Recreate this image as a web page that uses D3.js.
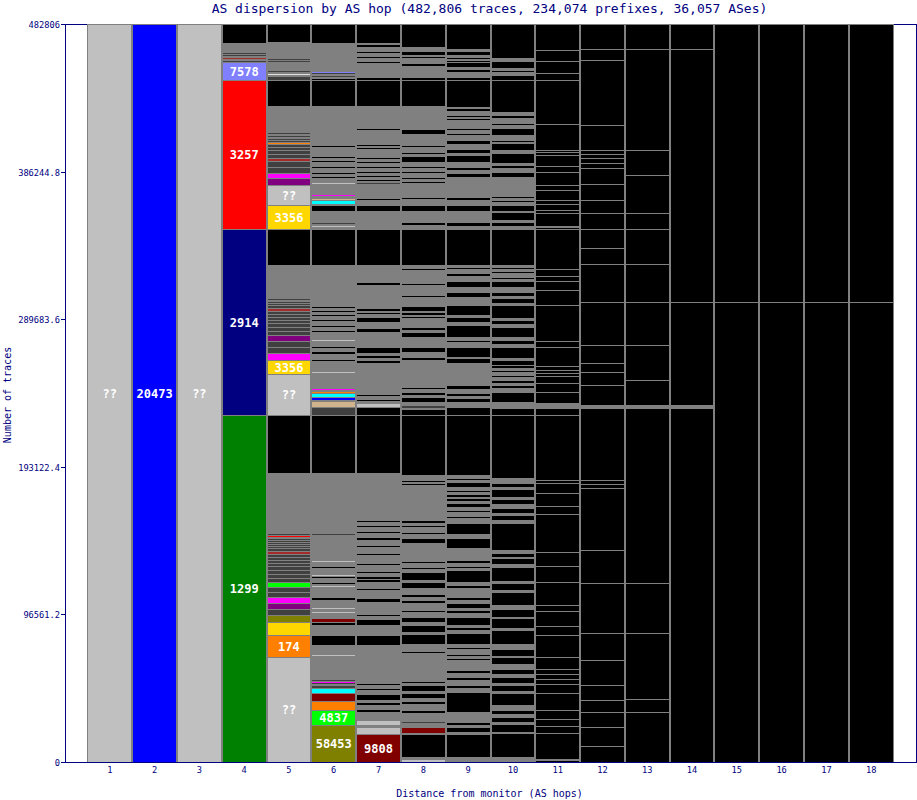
<!DOCTYPE html>
<html><head><meta charset="utf-8">
<script src="https://cdn.jsdelivr.net/npm/d3@7"></script>
<style>body{margin:0;background:#fff}svg{display:block}</style>
</head><body>
<script>
// ---------------- DATA ----------------
const TOTAL_TRACES = 482806;
const titleText = "AS dispersion by AS hop (482,806 traces, 234,074 prefixes, 36,057 ASes)";
const xTitle = "Distance from monitor (AS hops)";
const yTitle = "Number of traces";
const hops = [1,2,3,4,5,6,7,8,9,10,11,12,13,14,15,16,17,18];
const yTicks = [0, 96561.2, 193122.4, 289683.6, 386244.8, 482806];
const yTickLabels = ["0","96561.2","193122.4","289683.6","386244.8","482806"];
const palette = {K:"#000000",G:"#808080",D:"#404040",L:"#c0c0c0",W:"#e0e0e0",B:"#0000ff",GR:"#008000",NV:"#000080",
  R:"#ff0000",LB:"#8080ff",Y:"#ffd700",O:"#ff8000",OL:"#808000",LM:"#00ff00",DR:"#800000",P:"#800080",M:"#ff00ff",
  C:"#00ffff",BR:"#a52a2a",T:"#d2b48c"};

// each column: stacked segments from the bottom: [traces, colour code, AS label]
const col1 = [[482806,"L","??"]];
const col2 = [[482806,"B","20473"]];
const col3 = [[482806,"L","??"]];
const col4 = [[227007,"GR","1299"],[121681,"NV","2914"],[97476,"R","3257"],[11776,"LB","7578"],
  [654,"D"],[1308,"G"],[654,"BR"],[1308,"G"],[654,"D"],[654,"G"],[654,"D"],[6542,"G"],[12430,"K"]];
const col5 = [
  [68691,"L","??"],[14392,"O","174"],[8505,"Y"],[4579,"OL"],[3925,"D"],[3925,"P"],[3925,"M"],[3271,"D"],[3271,"D"],[3271,"LM"],
  [2617,"D"],[2617,"D"],[2617,"D"],[2617,"D"],[1963,"D"],[1963,"D"],[1963,"D"],[1963,"D"],[1963,"BR"],[1963,"D"],
  [1308,"D"],[1308,"D"],[1308,"D"],[1308,"D"],[1308,"D"],[654,"G"],[654,"R"],[654,"G"],[654,"D"],[654,"G"],
  [39252,"G"],[37944,"K"],
  [26822,"L","??"],[9159,"Y","3356"],[4579,"M"],[3925,"D"],[3925,"D"],[3925,"P"],
  [2617,"D"],[2617,"D"],[2617,"D"],[1963,"D"],[1963,"D"],[1963,"D"],[1963,"D"],[1963,"BR"],[1963,"D"],[1308,"D"],[1308,"D"],[654,"G"],[654,"D"],[654,"G"],
  [21589,"G"],[23551,"K"],
  [15701,"Y","3356"],[13084,"L","??"],[4579,"P"],[3271,"M"],[3925,"D"],[3925,"D"],[1963,"BR"],
  [2617,"D"],[2617,"D"],[1963,"D"],[1963,"D"],[654,"O"],[654,"G"],[1308,"D"],[1308,"D"],[654,"G"],[654,"D"],[1308,"G"],[654,"D"],
  [17663,"G"],[17009,"K"],
  [2617,"D"],[654,"G"],[1308,"W"],[654,"G"],[1308,"D"],[5234,"G"],
  [654,"D"],[654,"G"],[654,"D"],[11121,"G"],[11776,"K"]];
const col6 = [
  [24205,"OL","58453"],[9813,"LM","4837"],[5888,"O"],[5234,"DR"],[3271,"C"],
  [1963,"D"],[654,"G"],[654,"D"],[654,"M"],[654,"G"],[654,"D"],
  [15701,"G"],[654,"L"],[6542,"G"],[6542,"K"],[6542,"G"],[1963,"K"],[2617,"DR"],
  [3271,"G"],[654,"L"],[1963,"G"],[654,"L"],[5234,"G"],[1963,"K"],[6542,"G"],[654,"L"],[1308,"G"],[1308,"K"],[2617,"G"],[1308,"K"],[1308,"L"],[3925,"G"],[1308,"K"],[2617,"G"],[654,"L"],[17009,"G"],[654,"D"],
  [39906,"G"],[37944,"K"],
  [5234,"D"],[3925,"T"],[654,"G"],[1963,"B"],[2617,"C"],[1308,"O"],[654,"G"],[654,"M"],[654,"G"],[9813,"G"],[654,"L"],[7196,"G"],[1308,"K"],[3271,"G"],[1963,"K"],[1963,"G"],[1308,"K"],[3271,"G"],[654,"L"],[5234,"G"],[1308,"K"],[1963,"G"],[1308,"K"],[2617,"G"],[1308,"K"],[1963,"G"],[1308,"K"],[1308,"G"],[1308,"K"],[1308,"G"],[1308,"K"],[5234,"G"],[21589,"G"],[23551,"K"],
  [1308,"G"],[654,"L"],[1308,"G"],[654,"D"],[7850,"G"],[3925,"K"],[654,"G"],[2617,"C"],[1308,"T"],[1308,"G"],[1308,"M"],[6542,"G"],[654,"L"],[3271,"G"],[654,"K"],[1963,"G"],[1308,"K"],[2617,"G"],[654,"K"],[3271,"G"],[1308,"K"],[1308,"G"],[654,"K"],[6542,"G"],[654,"K"],[26168,"G"],[17009,"K"],
  [1308,"K"],[654,"G"],[1308,"D"],[654,"G"],[654,"D"],[654,"LB"],[6542,"G"],
  [12430,"G"],[12430,"K"]];
const col7 = [
  [18318,"DR","9808"],[4579,"L"],[1308,"G"],[3271,"L"],[5234,"G"],[1963,"K"],[2617,"G"],[1963,"K"],[1308,"G"],[3925,"K"],[2617,"G"],[1308,"K"],[1963,"G"],[1308,"K"],[24860,"G"],[6542,"K"],[6542,"G"],[3925,"K"],[1963,"G"],[1308,"K"],[7850,"G"],[2617,"K"],[5234,"G"],[1308,"K"],[3925,"G"],[1963,"K"],[1963,"K"],[1963,"G"],[1308,"K"],[3925,"G"],[1308,"K"],[5234,"G"],[1308,"K"],[3925,"G"],[1308,"K"],[3271,"G"],[1963,"K"],[2617,"G"],[1308,"K"],[2617,"G"],[1308,"K"],[1963,"G"],[1308,"K"],[30747,"G"],[37944,"K"],
  [5234,"K"],[2617,"L"],[1308,"G"],[1308,"K"],[1963,"G"],[1308,"K"],[20280,"G"],[1963,"K"],[1308,"G"],[1963,"K"],[1308,"G"],[3925,"K"],[9813,"G"],[2617,"K"],[3925,"G"],[3271,"K"],[1963,"G"],[1308,"K"],[654,"G"],[1963,"K"],[15047,"G"],[1963,"K"],[11121,"G"],[23551,"K"],
  [11776,"G"],[3925,"K"],[3271,"G"],[1308,"K"],[9159,"G"],[654,"D"],[1308,"G"],[1308,"K"],[1308,"G"],[1308,"K"],[1308,"G"],[1308,"K"],[1963,"G"],[1308,"K"],[1963,"G"],[1308,"K"],[1308,"G"],[1308,"K"],[5234,"G"],[1308,"K"],[654,"G"],[1308,"K"],[9159,"G"],[654,"K"],[15047,"G"],[17009,"K"],
  [1963,"K"],[9159,"G"],[654,"K"],
  [2617,"G"],[1308,"K"],[1963,"G"],[1308,"K"],[2617,"G"],[1963,"K"],[654,"G"],[12430,"K"]];
const col8 = [
  [1963,"L"],[1308,"G"],[15047,"K"],[654,"G"],[3925,"DR"],[2617,"G"],[654,"D"],[5888,"G"],[1963,"K"],[3925,"G"],[1963,"K"],[1963,"G"],[3271,"K"],[1308,"G"],[3925,"K"],[1308,"G"],[1308,"K"],[18318,"G"],[1308,"K"],[4579,"G"],[6542,"K"],[1308,"G"],[4579,"K"],[1963,"G"],[3271,"K"],[3271,"G"],[1308,"K"],[4579,"G"],[1963,"K"],[1963,"G"],[1963,"K"],[3925,"G"],[3925,"K"],[1308,"G"],[5234,"K"],[1963,"G"],[1308,"K"],[2617,"G"],[1308,"K"],[11776,"G"],[3271,"K"],[2617,"G"],[1308,"K"],[3271,"G"],[1308,"K"],[1308,"G"],[1963,"K"],[22897,"G"],[1308,"K"],[654,"G"],[1308,"K"],[3271,"G"],[39252,"K"],
  [3925,"K"],[654,"G"],[1963,"D"],[1963,"G"],[3271,"K"],[1308,"G"],[1963,"K"],[1963,"G"],[1308,"K"],[17663,"G"],[1963,"K"],[3271,"G"],[3271,"K"],[6542,"G"],[3271,"K"],[1308,"G"],[1963,"K"],[5888,"G"],[1308,"K"],[654,"G"],[1963,"K"],[654,"G"],[3271,"K"],[5888,"G"],[1308,"K"],[6542,"G"],[1308,"K"],[8505,"G"],[1308,"K"],[1963,"G"],[23551,"K"],
  [2617,"G"],[1963,"K"],[7196,"G"],[3925,"K"],[3925,"G"],[1308,"K"],[9159,"G"],[1308,"K"],[1308,"G"],[1308,"K"],[2617,"G"],[1308,"K"],[1963,"G"],[1308,"K"],[2617,"G"],[3925,"K"],[1308,"G"],[1308,"K"],[3271,"G"],[1308,"K"],[7196,"G"],[3271,"K"],[15047,"G"],[17009,"K"],
  [1963,"K"],[7196,"G"],[1963,"K"],[654,"G"],
  [2617,"G"],[1308,"K"],[654,"G"],[2617,"K"],[2617,"G"],[15047,"K"]];
const col9 = [
  [3271,"G"],[15047,"K"],[1308,"G"],[3271,"K"],[1308,"G"],[1963,"K"],[6542,"G"],[13084,"K"],[2617,"G"],[1963,"K"],[3271,"G"],[1963,"K"],[2617,"G"],[1963,"K"],[6542,"G"],[1308,"K"],[1308,"G"],[1308,"K"],[3271,"G"],[1308,"K"],[1963,"G"],[7196,"K"],[1963,"G"],[1963,"K"],[1308,"G"],[5234,"K"],[2617,"G"],[1963,"K"],[1308,"G"],[3271,"K"],[1963,"G"],[1963,"K"],[5888,"G"],[1963,"K"],[1963,"G"],[7850,"K"],[1308,"G"],[1308,"K"],[1963,"G"],[1963,"K"],[7850,"G"],[6542,"K"],[2617,"G"],[7196,"K"],[3271,"G"],[1308,"K"],[2617,"G"],[1308,"K"],[1963,"G"],[2617,"K"],[1308,"G"],[1963,"K"],[654,"G"],[1963,"K"],[1308,"G"],[1308,"K"],[1963,"G"],[3271,"K"],[1308,"G"],[1308,"K"],[1963,"G"],[39252,"K"],
  [5234,"K"],[3271,"G"],[2617,"K"],[1308,"G"],[1963,"K"],[2617,"G"],[2617,"K"],[14392,"G"],[3271,"K"],[654,"G"],[6542,"K"],[3271,"G"],[1308,"K"],[1963,"G"],[7850,"K"],[1963,"G"],[3271,"K"],[1308,"G"],[6542,"K"],[5234,"G"],[3271,"K"],[3271,"G"],[3925,"K"],[3271,"G"],[1963,"K"],[2617,"G"],[1308,"K"],[1308,"G"],[23551,"K"],
  [1963,"G"],[2617,"K"],[7196,"G"],[3925,"K"],[3271,"G"],[1963,"K"],[13084,"G"],[2617,"K"],[1963,"G"],[1963,"K"],[3271,"G"],[4579,"K"],[1308,"G"],[2617,"K"],[3271,"G"],[2617,"K"],[3271,"G"],[1308,"K"],[1963,"G"],[1308,"K"],[5234,"G"],[1308,"K"],[654,"G"],[1308,"K"],[2617,"G"],[1963,"K"],[654,"G"],[17663,"K"],
  [1963,"K"],[3271,"G"],[1963,"K"],[1308,"G"],[3271,"K"],
  [654,"K"],[1308,"G"],[1308,"K"],[1308,"G"],[2617,"K"],[1308,"G"],[16355,"K"]];
const col10 = [
  [3271,"G"],[15701,"K"],[654,"G"],[5234,"K"],[1308,"G"],[3271,"K"],[1963,"G"],[2617,"K"],[3271,"G"],[7850,"K"],[1308,"G"],[3925,"K"],[1308,"G"],[3925,"K"],[1963,"G"],[3271,"K"],[3271,"G"],[4579,"K"],[654,"G"],[4579,"K"],[3271,"G"],[9159,"K"],[1308,"G"],[6542,"K"],[654,"G"],[5234,"K"],[2617,"G"],[8505,"K"],[1308,"G"],[4579,"K"],[1308,"G"],[9159,"K"],[1963,"G"],[3925,"K"],[654,"G"],[2617,"K"],[1963,"G"],[17663,"K"],[1963,"G"],[3271,"K"],[1308,"G"],[3271,"K"],[2617,"G"],[3271,"K"],[1308,"G"],[5234,"K"],[1308,"G"],[2617,"K"],[3271,"G"],[41214,"K"],
  [4579,"K"],[3925,"G"],[6542,"K"],[2617,"G"],[1963,"K"],[1308,"G"],[1963,"K"],[1963,"G"],[1308,"K"],[1963,"G"],[1308,"K"],[1308,"G"],[1963,"K"],[3271,"K"],[1308,"G"],[7196,"K"],[1963,"G"],[2617,"K"],[1963,"G"],[6542,"K"],[1963,"G"],[2617,"K"],[1308,"G"],[8505,"K"],[1308,"G"],[3271,"K"],[1308,"G"],[2617,"K"],[3271,"G"],[3925,"K"],[1308,"G"],[1308,"K"],[2617,"G"],[1308,"K"],[1308,"G"],[1308,"K"],[1308,"G"],[23551,"K"],
  [1963,"G"],[2617,"K"],[1308,"G"],[5234,"K"],[654,"G"],[3925,"K"],[1963,"G"],[1308,"K"],[1308,"G"],[1308,"K"],[12430,"G"],[3271,"K"],[2617,"G"],[1963,"K"],[1308,"G"],[6542,"K"],[1963,"G"],[4579,"K"],[654,"G"],[1308,"K"],[3271,"G"],[4579,"K"],[1963,"G"],[1308,"K"],[3271,"G"],[1963,"K"],[1963,"G"],[20934,"K"],
  [3271,"K"],[1963,"G"],[1308,"K"],[1308,"G"],[4579,"K"],[1963,"G"],[22243,"K"]];
const col11 = [
  [654,"K"],[1308,"G"],[17009,"K"],[4579,"K"],[4579,"K"],[5888,"K"],[11121,"K"],[5888,"K"],[3271,"K"],[3271,"K"],[3271,"K"],[7850,"K"],[14392,"K"],[5888,"K"],[9813,"K"],[3925,"K"],[15047,"K"],[10467,"K"],[9159,"K"],[24860,"K"],[5234,"K"],[8505,"K"],[6542,"K"],[1963,"K"],[42523,"K"],
  [4579,"K"],[3271,"G"],[7196,"K"],[5888,"K"],[4579,"K"],[1963,"K"],[1963,"K"],[2617,"K"],[12430,"K"],[3925,"K"],[23551,"K"],[9813,"K"],[5888,"K"],[3271,"K"],[4579,"K"],[26168,"K"],
  [654,"K"],[1308,"G"],[8505,"K"],[1963,"K"],[3925,"K"],[2617,"K"],[6542,"K"],[3271,"K"],[8505,"K"],[3925,"K"],[7196,"K"],[1963,"K"],[1308,"K"],[17009,"K"],[28785,"K"],
  [4579,"K"],[7850,"K"],[7196,"K"],[17009,"K"]];
const col12 = [[10467,"K"],[12430,"K"],[9813,"K"],[7850,"K"],[9813,"K"],[16355,"K"],[17663,"K"],[32710,"K"],[21589,"K"],[40560,"K"],[2617,"K"],[2617,"K"],[47102,"K"],[1963,"G"],
  [13084,"K"],[8505,"K"],[5888,"K"],[11776,"K"],[28131,"K"],[24860,"K"],[10467,"K"],[12430,"K"],[10467,"K"],[8505,"K"],[10467,"K"],[10467,"K"],[3271,"K"],[3271,"K"],[2617,"K"],[2617,"K"],[16355,"K"],[42523,"K"],[7196,"K"],[16355,"K"]];
const col13 = [[32710,"K"],[8505,"K"],[43177,"K"],[32710,"K"],[114485,"K"],[1963,"G"],[16355,"K"],[22897,"K"],[28131,"K"],[24860,"K"],[22897,"K"],[10467,"K"],[24860,"K"],[16355,"K"],[66074,"K"],[16355,"K"]];
const col14 = [[231587,"K"],[1963,"G"],[67382,"K"],[165513,"K"],[16355,"K"]];
const col15 = [[300932,"K"],[181868,"K"]];
const col16 = [[300932,"K"],[181868,"K"]];
const col17 = [[300932,"K"],[181868,"K"]];
const col18 = [[300932,"K"],[181868,"K"]];
const columns = [col1,col2,col3,col4,col5,col6,col7,col8,col9,col10,col11,col12,col13,col14,col15,col16,col17,col18];

// ---------------- DRAW ----------------
const W = 917, H = 800;
const navy = "#000080";
const mono = "'DejaVu Sans Mono', 'Liberation Mono', monospace";
const svg = d3.select("body").append("svg").attr("width", W).attr("height", H);
const x = d3.scaleLinear().domain([0, 19]).range([65, 916]);
const y = d3.scaleLinear().domain([0, TOTAL_TRACES]).range([762, 24]);

svg.append("rect").attr("x", 65.5).attr("y", 24.5).attr("width", 851).attr("height", 738)
  .attr("fill", "#fff").attr("stroke", navy).attr("shape-rendering", "crispEdges");

const g = svg.append("g").attr("shape-rendering", "crispEdges");
const lab = svg.append("g");
columns.forEach((segs, i) => {
  const hop = hops[i];
  const xl = Math.round(x(hop - 0.5)), xr = Math.round(x(hop + 0.5));
  const yTop = Math.round(y(TOTAL_TRACES));
  g.append("rect").attr("x", xl).attr("y", yTop).attr("width", xr - xl).attr("height", Math.round(y(0)) - yTop).attr("fill", palette.G);
  let cum = 0;
  segs.forEach(s => {
    const v0 = cum, v1 = Math.min(cum + s[0], TOTAL_TRACES);
    cum += s[0];
    const yb = Math.round(y(v0)), yt = Math.round(y(v1));
    const h = yb - yt;
    if (h <= 0) return;
    const top = h >= 2 ? yt + 1 : yt;
    g.append("rect").attr("x", xl + 1).attr("y", top).attr("width", xr - xl - 2).attr("height", yb - top).attr("fill", palette[s[1]]);
    if (s[2]) {
      lab.append("text").attr("x", x(hop)).attr("y", (yb + yt) / 2 + 4.5).attr("text-anchor", "middle")
        .attr("font-family", mono).attr("font-weight", "bold").attr("font-size", 12).attr("fill", "#fff").text(s[2]);
    }
  });
  if (cum < TOTAL_TRACES) {
    const yb = Math.round(y(cum)), yt = Math.round(y(TOTAL_TRACES));
    if (yb - yt >= 2) g.append("rect").attr("x", xl + 1).attr("y", yt + 1).attr("width", xr - xl - 2).attr("height", yb - yt - 1).attr("fill", palette.K);
  }
});

// axes lines
svg.append("line").attr("x1", 65).attr("x2", 917).attr("y1", 762.5).attr("y2", 762.5).attr("stroke", navy);
svg.append("line").attr("x1", 65.5).attr("x2", 65.5).attr("y1", 24).attr("y2", 763).attr("stroke", navy);

// y ticks
yTicks.forEach((t, i) => {
  const yy = Math.round(y(t)) + 0.5;
  svg.append("line").attr("x1", 61).attr("x2", 65).attr("y1", yy).attr("y2", yy).attr("stroke", navy);
  svg.append("text").attr("x", 60).attr("y", yy + 3).attr("text-anchor", "end").attr("font-family", mono)
    .attr("font-size", 8.7).attr("fill", navy).text(yTickLabels[i]);
});
// x tick labels
hops.forEach(h => {
  svg.append("text").attr("x", x(h)).attr("y", 773).attr("text-anchor", "middle").attr("font-family", mono)
    .attr("font-size", 8.7).attr("fill", navy).text(String(h));
});
// titles
svg.append("text").attr("x", 489.5).attr("y", 12.5).attr("text-anchor", "middle").attr("font-family", mono)
  .attr("font-size", 13).attr("fill", navy).text(titleText);
svg.append("text").attr("x", 489.5).attr("y", 797).attr("text-anchor", "middle").attr("font-family", mono)
  .attr("font-size", 10).attr("fill", navy).text(xTitle);
svg.append("text").attr("transform", "translate(11,395) rotate(-90)").attr("text-anchor", "middle").attr("font-family", mono)
  .attr("font-size", 10).attr("fill", navy).text(yTitle);
</script>
</body></html>
